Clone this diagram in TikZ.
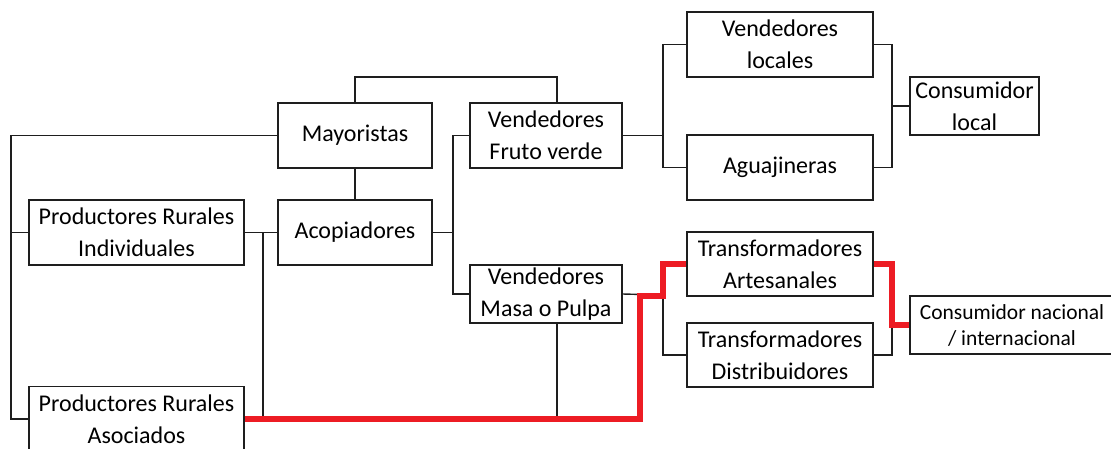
\documentclass[tikz,border=0pt]{standalone}
\usepackage{fontspec}
\setmainfont{Carlito}
\definecolor{chainred}{HTML}{ED1C24}
\definecolor{linegray}{HTML}{1E1E1E}
\tikzset{
  box/.style={draw=linegray, line width=1.4pt, fill=white, inner sep=0pt, align=center,
    font=\fontsize{24}{32}\selectfont, text=black},
  smallbox/.style={box, font=\fontsize{21.5}{26}\selectfont},
  link/.style={draw=linegray, line width=1.4pt},
  redlink/.style={draw=chainred, line width=6pt, line join=miter}
}
\begin{document}
\begin{tikzpicture}[x=1pt,y=-1pt]
\useasboundingbox (0,0) rectangle (1111,448);
% boxes
\node[box, minimum width=154pt, minimum height=65pt] (may) at (355,135.5) {Mayoristas};
\node[box, minimum width=154pt, minimum height=65pt] (aco) at (355,232.5) {Acopiadores};
\node[box, minimum width=215pt, minimum height=65pt] (pri) at (136.5,232.5) {Productores Rurales\\Individuales};
\node[box, minimum width=215pt, minimum height=65pt] (pra) at (136.5,419) {Productores Rurales\\Asociados};
\node[box, minimum width=152pt, minimum height=65pt] (vfv) at (546,135.5) {Vendedores\\Fruto verde};
\node[box, minimum width=152pt, minimum height=58pt] (vmp) at (546,294) {Vendedores\\Masa o Pulpa};
\node[box, minimum width=186pt, minimum height=65pt] (vl) at (780,44.5) {Vendedores\\locales};
\node[box, minimum width=186pt, minimum height=65pt] (ag) at (780,167.5) {Aguajineras};
\node[box, minimum width=186pt, minimum height=64pt] (ta) at (780,264) {Transformadores\\Artesanales};
\node[box, minimum width=186pt, minimum height=64pt] (td) at (780,355) {Transformadores\\Distribuidores};
\node[box, minimum width=129pt, minimum height=58pt] (cl) at (974.5,106) {Consumidor\\local};
\node[smallbox, minimum width=204pt, minimum height=58pt] (cni) at (1012,325) {Consumidor nacional\\/ internacional};
% bend points
\coordinate (c1) at (11,232.5);
\coordinate (c2) at (263,232.5);
\coordinate (c3) at (263,419);
\coordinate (c4) at (557,77);
\coordinate (c5) at (453,232.5);
\coordinate (c6) at (663,135.5);
\coordinate (c7) at (892,106);
\coordinate (c8) at (663,295);
\coordinate (c9) at (892,325);
\coordinate (c10) at (557,419);
\coordinate (r1) at (640,419);
\coordinate (r2) at (663,296);
% black connectors
\draw[link] (may.west) -| (c1) |- (pra.west);
\draw[link] (c1) -- (pri.west);
\draw[link] (pri.east) -- (aco.west);
\draw[link] (c2) -- (c3);
\draw[link] (may.south) -- (aco.north);
\draw[link] (may.north) |- (c4) -- (c4 |- vfv.north);
\draw[link] (vfv.west) -| (c5) |- (vmp.west);
\draw[link] (aco.east) -- (c5);
\draw[link] (vl.west) -| (c6) |- (ag.west);
\draw[link] (vfv.east) -- (c6);
\draw[link] (vl.east) -| (c7) |- (ag.east);
\draw[link] (c7) -- (cl.west);
\draw[link] (ta.west) -| (c8) |- (td.west);
\draw[link] (vmp.east) -- (c8);
\draw[link] (ta.east) -| (c9) |- (td.east);
\draw[link] (c9) -- (cni.west);
\draw[link] (c10 |- vmp.south) -- (c10);
% red path
\draw[redlink] (pra.east) -- (r1) |- (r2) |- (ta.west);
\draw[redlink] (ta.east) -| (c9) -- (cni.west);
\end{tikzpicture}
\end{document}
